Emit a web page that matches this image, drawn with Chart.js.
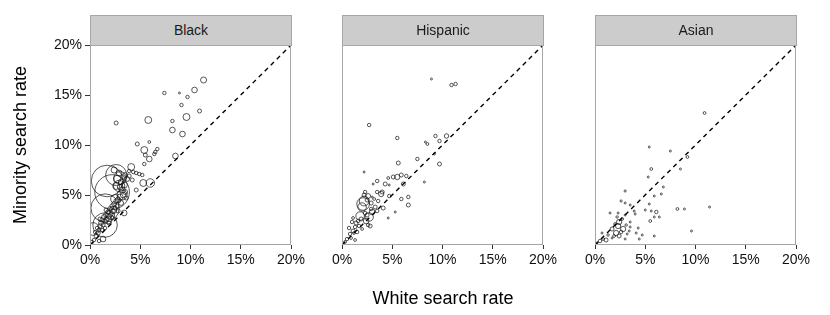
<!DOCTYPE html>
<html><head><meta charset="utf-8">
<script src="https://cdn.jsdelivr.net/npm/chart.js@4.4.1/dist/chart.umd.min.js"></script>
<style>
html,body{margin:0;padding:0;background:#fff;}
#wrap{position:relative;width:830px;height:315px;overflow:hidden;font-family:"Liberation Sans",Arial,sans-serif;}
canvas{position:absolute;left:0;top:0;}
.strip{position:absolute;top:15px;height:31px;box-sizing:border-box;background:#cccccc;border:1px solid #a6a6a6;color:#1a1a1a;font-size:14px;text-align:center;line-height:29px;}
.ytitle{position:absolute;left:-80px;top:134px;width:200px;height:22px;line-height:22px;text-align:center;font-size:18px;color:#000;transform:rotate(-90deg);transform-origin:50% 50%;}
.xtitle{position:absolute;left:343px;top:287px;width:200px;height:22px;line-height:22px;text-align:center;font-size:18px;color:#000;}
</style></head>
<body>
<div id="wrap">
<canvas id="c1" width="830" height="315"></canvas>
<canvas id="c2" width="830" height="315"></canvas>
<canvas id="c3" width="830" height="315"></canvas>
<div class="strip" id="s1"></div>
<div class="strip" id="s2"></div>
<div class="strip" id="s3"></div>
<div class="ytitle">Minority search rate</div>
<div class="xtitle">White search rate</div>
</div>
<script>
// ---- data (search rates in %, w = bubble size value) ----
const panelNames = ['Black', 'Hispanic', 'Asian'];
const axisTicks = [0, 5, 10, 15, 20];
const tickLabels = ['0%', '5%', '10%', '15%', '20%'];
const diagonal = [[0, 0], [20, 20]];

const blackPoints = [
 [11.3,16.5,9],[10.4,15.5,8],[7.4,15.2,3],[8.9,15.2,1],[9.7,14.8,3],[9.1,14.0,3],[10.9,13.4,4],[9.6,12.8,12],
 [5.8,12.5,12],[8.2,12.4,3],[2.6,12.2,4],[8.2,11.5,8],[9.2,11.1,8],[4.7,10.1,4],[5.9,10.3,2],[5.4,9.5,12],
 [6.7,9.6,3],[6.5,9.3,3],[6.4,9.1,3],[5.5,9.0,4],[5.9,8.6,8],[8.5,8.9,8],[5.4,8.1,3],[4.1,7.8,12],
 [3.9,7.4,3],[4.3,7.3,3],[4.6,7.2,3],[4.9,7.1,3],[5.2,7.0,3],[6.0,6.2,18],[5.3,6.2,12],[4.6,5.5,4],
 [3.4,3.2,8],[1.3,0.6,8],
 [3.5,7.0,6],[3.7,6.6,6],[3.3,6.8,5],[3.9,6.9,4],[4.2,6.5,4],[3.1,6.3,8],[3.4,6.0,10],[3.2,5.5,10],
 [3.0,5.8,8],[3.5,5.3,6],[3.3,5.0,8],[3.0,4.8,9],[2.8,4.5,8],[3.6,4.7,4],[2.7,6.6,14],[2.9,7.2,8],
 [3.1,4.2,6],[2.6,5.9,12],[2.4,7.5,9],
 [1.7,6.4,250],[2.6,7.0,110],[2.2,5.3,300],[1.5,3.7,200],[1.5,2.0,150],[0.3,1.6,40],
 [3.0,6.7,40],[2.9,5.9,32],[3.2,5.0,25],[2.5,4.6,20],[2.0,3.0,20],[1.8,2.5,16],[2.3,3.5,14],
 [0.4,0.5,3],[0.6,0.9,4],[0.8,1.2,5],[0.9,1.5,4],[1.0,1.9,5],[1.1,2.2,6],[1.2,2.5,5],[1.3,2.0,4],
 [1.4,2.8,6],[1.5,2.4,5],[1.6,3.0,6],[1.7,2.6,4],[1.8,3.3,5],[1.9,2.9,5],[2.0,3.6,6],[2.1,3.1,4],
 [2.2,3.9,5],[2.3,3.4,5],[2.4,4.1,6],[2.5,3.7,4],[2.6,4.4,5],[2.7,3.9,4],[1.2,1.5,3],[0.7,1.7,3],
 [1.5,1.7,3],[1.9,2.2,4],[2.2,2.7,3],[1.0,2.6,4],[1.6,3.5,4],[2.8,3.4,4],[0.9,0.4,3],[0.5,1.3,3],[0.2,0.3,3]
];

const hispanicPoints = [
 [8.9,16.6,1],[10.9,16.0,3],[11.3,16.1,3],[2.7,12.0,3],[5.5,10.7,3],[9.3,10.9,3],[10.4,10.9,5],[8.3,10.3,1],
 [8.5,10.1,2],[9.7,10.4,3],[9.2,9.1,1],[7.5,8.6,3],[5.6,8.2,4],[9.7,8.1,4],[2.2,7.3,1],[5.5,6.8,7],
 [5.9,7.0,4],[5.1,6.8,4],[4.6,6.7,2],[6.4,6.9,3],[6.1,6.1,4],[8.2,6.3,1],[3.5,6.4,3],[3.1,6.1,1],
 [4.3,6.1,4],[4.7,6.0,1],[3.5,5.3,3],[4.0,5.3,4],[3.9,5.1,7],[2.3,5.3,3],[3.0,4.8,1],[4.7,4.9,3],
 [5.9,4.6,3],[6.6,4.8,3],[6.6,4.0,4],[4.1,3.7,4],[5.3,3.3,1],[4.6,2.7,1],[2.1,4.1,40],[2.2,4.4,24],
 [2.0,3.8,18],[1.8,2.9,18],[2.7,2.8,18],[2.8,1.9,4],[3.6,4.4,3],[3.3,3.8,4],[3.5,3.4,3],[3.0,3.3,8],
 [2.4,2.4,8],
 [0.5,0.6,3],[0.8,1.1,3],[1.1,1.4,4],[1.3,1.8,3],[0.7,1.7,3],[1.0,2.3,3],[1.4,2.2,4],[1.6,2.4,3],
 [1.2,1.2,2],[0.9,0.7,2],[1.5,1.3,3],[1.7,1.9,3],[0.3,0.3,2],[1.3,0.5,2],[1.9,2.6,4],[2.5,3.0,4],
 [2.6,2.0,3],[1.1,2.7,2],[2.0,1.6,2],[2.9,3.6,3],[2.3,3.2,3],
 [2.6,4.9,6],[2.5,4.5,4],[2.9,4.2,4],[3.2,4.6,2],[2.2,5.0,4]
];

const asianPoints = [
 [10.9,13.2,2],[5.4,9.8,1],[7.5,9.4,1],[9.2,8.8,2],[5.6,7.6,2],[8.5,7.6,1],[5.3,6.8,1],[6.8,5.8,1],
 [3.0,5.4,1.2],[5.9,4.9,1],[6.6,5.1,1],[2.6,4.4,1.2],[3.0,4.2,1],[3.5,4.0,1],[5.4,4.1,1],[3.9,3.4,1],
 [5.0,3.5,1],[5.6,3.4,1],[6.1,3.3,3],[8.2,3.6,2],[8.9,3.6,1],[11.4,3.8,1],[1.5,3.2,1],[2.3,3.2,1],
 [4.0,3.1,1],[5.9,2.8,1],[6.4,2.8,1],[3.0,3.0,1],[5.5,2.4,2],[2.4,2.3,7],[2.3,1.9,7],[2.8,1.6,7],
 [2.1,1.2,7],[1.7,1.6,4],[2.4,0.9,4],[3.4,1.4,1],[3.2,1.1,1],[4.3,1.7,1],[4.1,1.2,1],[4.7,1.0,1],
 [4.4,0.6,1],[5.9,0.9,1],[9.6,1.4,1],[0.7,1.2,1],[0.5,0.4,3],[1.1,0.5,4],[0.2,0.2,1],[3.5,2.3,1],
 [3.5,1.8,1],[3.0,0.6,1],[1.7,0.7,1],[2.7,2.6,2],[2.0,2.1,2],[2.6,1.3,3],[1.9,0.9,2],[0.8,0.6,2],
 [3.1,2.0,1.5],[2.2,2.8,1.5],[1.3,1.0,1.5]
];

// ---- layout ----
const FONT = '"Liberation Sans", Arial, sans-serif';
Chart.defaults.font.family = FONT;
const panelLeft = [90, 342, 595];
const panelWidth = 201;
const panelTop = 45, panelBottom = 245;
const allPoints = [blackPoints, hispanicPoints, asianPoints];

const panelBorder = {
  id: 'panelBorder',
  afterDatasetsDraw(chart) {
    const a = chart.chartArea, c = chart.ctx;
    c.save();
    c.strokeStyle = '#a6a6a6';
    c.lineWidth = 1;
    c.strokeRect(a.left + 0.5, a.top + 0.5, a.right - a.left - 1, a.bottom - a.top - 1);
    c.restore();
  }
};

function makePanel(i) {
  const L = panelLeft[i], R = L + panelWidth;
  const showY = i === 0;
  const yw = showY ? 40 : 0;
  const strip = document.getElementById('s' + (i + 1));
  strip.textContent = panelNames[i];
  strip.style.left = (L) + 'px';
  strip.style.width = (panelWidth + 1) + 'px';

  const bubbles = allPoints[i].map(p => ({ x: p[0], y: p[1], r: Math.sqrt(p[2]) }));
  const tickCfg = {
    color: '#111', font: { size: 14, family: FONT }, maxRotation: 0, autoSkip: false,
    callback: (v) => tickLabels[axisTicks.indexOf(v)]
  };
  new Chart(document.getElementById('c' + (i + 1)), {
    type: 'bubble',
    data: {
      datasets: [
        {
          type: 'line',
          data: diagonal.map(d => ({ x: d[0], y: d[1] })),
          borderColor: '#000', borderWidth: 1.4, borderDash: [4.5, 4],
          pointRadius: 0, fill: false, order: 0
        },
        {
          data: bubbles,
          backgroundColor: 'rgba(0,0,0,0)', borderColor: '#111', borderWidth: 0.7,
          hoverRadius: 0, order: 1
        }
      ]
    },
    options: {
      responsive: false, animation: false, events: [],
      layout: { padding: { left: L - yw, right: 830 - R, top: panelTop, bottom: 0 } },
      plugins: { legend: { display: false }, tooltip: { enabled: false } },
      scales: {
        x: {
          type: 'linear', min: 0, max: 20,
          afterBuildTicks: s => { s.ticks = axisTicks.map(v => ({ value: v })); },
          ticks: Object.assign({ padding: 3 }, tickCfg),
          grid: { drawOnChartArea: false, drawTicks: true, tickLength: 4, color: '#333' },
          border: { display: false },
          afterFit: s => { s.height = 315 - panelBottom; s.paddingLeft = 0; s.paddingRight = 0; }
        },
        y: {
          type: 'linear', min: 0, max: 20, display: showY,
          afterBuildTicks: s => { s.ticks = axisTicks.map(v => ({ value: v })); },
          ticks: Object.assign({ padding: 3 }, tickCfg),
          grid: { drawOnChartArea: false, drawTicks: true, tickLength: 5, color: '#333' },
          border: { display: false },
          afterFit: s => { s.width = yw; s.paddingTop = 0; s.paddingBottom = 0; }
        }
      }
    },
    plugins: [panelBorder]
  });
}
[0, 1, 2].forEach(makePanel);
</script>
</body></html>
